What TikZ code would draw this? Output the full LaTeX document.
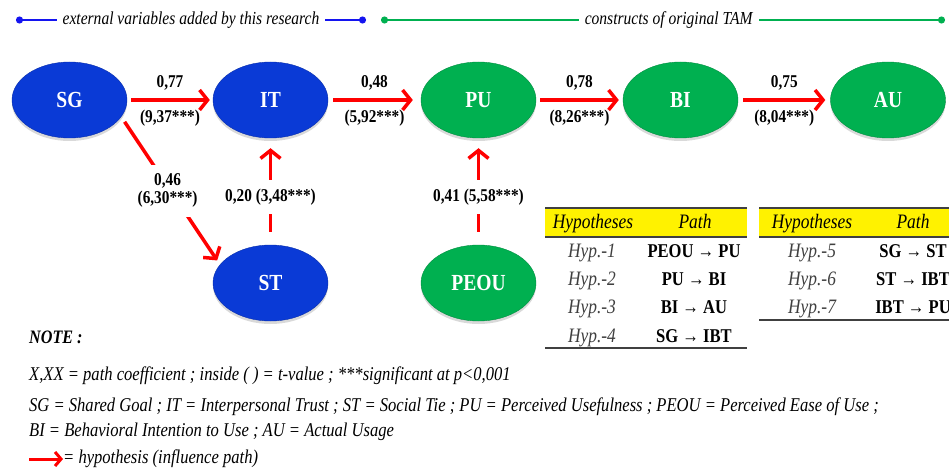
\documentclass[tikz,border=0pt]{standalone}
\usepackage{fontspec}
\setmainfont{Liberation Serif}[FakeStretch=0.85]
\usetikzlibrary{shapes.geometric, positioning, arrows.meta, shadows}

\definecolor{tamgreen}{RGB}{0,176,80}
\definecolor{extblue}{RGB}{10,58,214}
\definecolor{legblue}{RGB}{20,20,240}
\definecolor{hypred}{RGB}{255,0,0}

\begin{document}
\begin{tikzpicture}[x=1pt, y=-1pt,
    construct/.style={ellipse, minimum width=115pt, minimum height=76pt,
      text=white, font=\bfseries\fontsize{23}{23}\selectfont,
      drop shadow={shadow xshift=0pt, shadow yshift=-3pt, opacity=0.3}},
    extvar/.style={construct, fill=extblue, draw=extblue!80!black},
    tamvar/.style={construct, fill=tamgreen, draw=tamgreen!80!black},
    hyp/.style={draw=hypred, line width=3.5pt,
      -{Straight Barb[length=8pt, width=20pt]}},
    coef/.style={font=\bfseries\fontsize{18}{18}\selectfont, inner sep=1pt},
    gaplabel/.style={coef, fill=white, inner ysep=9pt, align=center},
    legline/.style={line width=2pt, {Circle[length=7pt]}-{Circle[length=7pt]}},
    legtext/.style={font=\itshape\fontsize{18.3}{18.3}\selectfont, text=black,
      fill=white, inner xsep=6pt},
    hyphead/.style={anchor=base, font=\itshape\fontsize{20.5}{20.5}\selectfont},
    hypcell/.style={anchor=base, font=\itshape\fontsize{20.5}{20.5}\selectfont,
      text=black!75},
    pathcell/.style={anchor=base, font=\bfseries\fontsize{19.5}{19.5}\selectfont},
    tabrule/.style={line width=2pt, draw=black!75},
    note/.style={anchor=west, inner sep=0pt,
      font=\itshape\fontsize{19.5}{19.5}\selectfont}]

  \useasboundingbox (0,0) rectangle (949,470);
  \clip (0,0) rectangle (949,470);

  % legend on top
  \coordinate (extL) at (16,20);
  \coordinate (extR) at (366,20);
  \coordinate (tamL) at (381,20);
  \coordinate (tamR) at (945,20);
  \draw[legline, legblue] (extL) -- node[legtext] {external variables added by this research} (extR);
  \draw[legline, tamgreen] (tamL) -- node[legtext, pos=0.51] {constructs of original TAM} (tamR);

  % constructs
  \node[extvar] (sg) at (69.5,100) {SG};
  \node[extvar] (it) at (270.5,100) {IT};
  \node[tamvar] (pu) at (478.5,100) {PU};
  \node[tamvar] (bi) at (680.5,100) {BI};
  \node[tamvar] (au) at (888,100) {AU};
  \node[extvar] (st) at (270.5,283) {ST};
  \node[tamvar] (peou) at (478.5,283) {PEOU};

  % influence paths
  \draw[hyp, shorten <=4pt, shorten >=3pt] (sg) -- (it)
    node[coef, midway, above=7pt] {0,77}
    node[coef, midway, below=7pt] {(9,37***)};
  \draw[hyp, shorten <=5pt, shorten >=8pt] (it) -- (pu)
    node[coef, midway, above=7pt] {0,48}
    node[coef, midway, below=7pt] {(5,92***)};
  \draw[hyp, shorten <=4pt, shorten >=4pt] (pu) -- (bi)
    node[coef, midway, above=7pt] {0,78}
    node[coef, midway, below=7pt] {(8,26***)};
  \draw[hyp, shorten <=5pt, shorten >=5pt] (bi) -- (au)
    node[coef, midway, above=7pt] {0,75}
    node[coef, midway, below=7pt] {(8,04***)};
  \draw[hyp, shorten <=6pt, shorten >=5pt] (sg.-18) -- (st.160)
    node[gaplabel, midway, xshift=-3pt] {0,46\\(6,30***)};
  \draw[hyp, shorten <=13pt, shorten >=10pt] (st) -- (it)
    node[gaplabel, pos=0.45] {0,20 (3,48***)};
  \draw[hyp, shorten <=13pt, shorten >=10pt] (peou) -- (pu)
    node[gaplabel, pos=0.45] {0,41 (5,58***)};

  % hypotheses tables
  \fill[yellow] (545,208) rectangle (747,237);
  \fill[yellow] (759,208) rectangle (960,237);
  \draw[tabrule] (545,208) -- (747,208) (545,237) -- (747,237) (545,348) -- (747,348);
  \draw[tabrule] (759,208) -- (960,208) (759,237) -- (960,237) (759,320) -- (960,320);
  \node[hyphead] (head1a) at (593,229) {Hypotheses};
  \node[hyphead] (head1b) at (695,229) {Path};
  \node[hyphead] (head2a) at (812,229) {Hypotheses};
  \node[hyphead] (head2b) at (913,229) {Path};
  \foreach \n/\p [count=\i from 0] in {1/PEOU → PU, 2/PU → BI, 3/BI → AU, 4/SG → IBT}
    \node[hypcell] (hyp\n) at (592,257+28.4*\i) {Hyp.-\n}
      node[pathcell] at (694,257+28.4*\i) {\p};
  \foreach \n/\p [count=\i from 0] in {5/SG → ST, 6/ST → IBT, 7/IBT → PU}
    \node[hypcell] (hyp\n) at (812,257+28.4*\i) {Hyp.-\n}
      node[pathcell] at (913,257+28.4*\i) {\p};

  % notes
  \node[note, font=\bfseries\itshape\fontsize{19}{19}\selectfont] (notehead) at (29,337) {NOTE :};
  \node[note] (note1) at (29,376) {X,XX = path coefficient ; inside ( ) = t-value ; ***significant at p<0,001};
  \node[note] (note2) at (29,407) {SG = Shared Goal ; IT = Interpersonal Trust ; ST = Social Tie ; PU = Perceived Usefulness ; PEOU = Perceived Ease of Use ;};
  \node[note] (note3) at (29,432) {BI = Behavioral Intention to Use ; AU = Actual Usage};
  \coordinate (keyL) at (29,459);
  \node[note] (keytext) at (63,459) {= hypothesis (influence path)};
  \draw[hyp, line width=3pt, -{Straight Barb[length=6pt, width=14pt]}] (keyL) -- (keytext.west);

\end{tikzpicture}
\end{document}
